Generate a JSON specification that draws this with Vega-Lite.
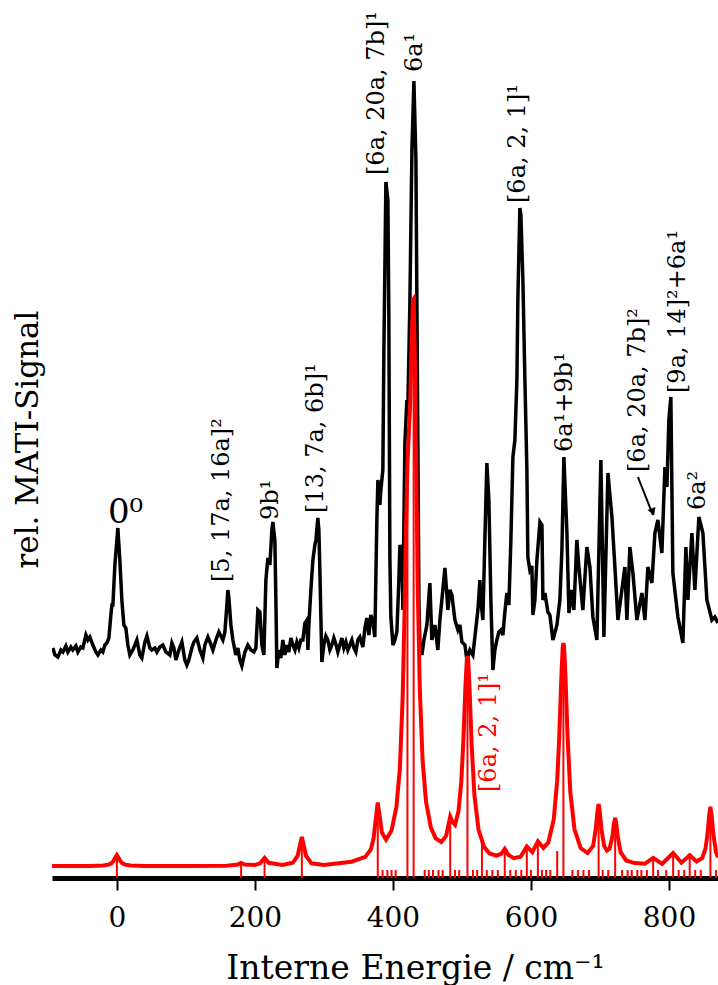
{
"$schema": "https://vega.github.io/schema/vega-lite/v6.json",
"width": 666, "height": 878,
"autosize": {"type": "none"},
"padding": {"left": 52, "top": 0, "right": 0, "bottom": 107},
"background": "white",
"config": {"view": {"stroke": null}, "font": "DejaVu Serif"},
"datasets": {
"black": [
{"x":-92.7,"y":23.0},{"x":-89.8,"y":22.3},{"x":-85.5,"y":22.1},{"x":-81.1,"y":22.8},{"x":-78.2,"y":22.6},{"x":-73.9,"y":23.2},{"x":-71.0,"y":22.6},{"x":-66.7,"y":23.1},{"x":-63.8,"y":22.8},{"x":-59.4,"y":23.2},{"x":-56.5,"y":22.6},{"x":-52.2,"y":23.1},{"x":-49.3,"y":23.0},{"x":-44.9,"y":24.3},{"x":-42.0,"y":23.8},{"x":-39.1,"y":24.1},{"x":-34.8,"y":23.3},{"x":-30.4,"y":22.6},{"x":-27.5,"y":22.3},{"x":-23.2,"y":22.8},{"x":-20.3,"y":22.6},{"x":-17.4,"y":23.3},{"x":-14.5,"y":23.5},{"x":-11.6,"y":24.0},{"x":-8.7,"y":26.3},{"x":-7.2,"y":27.3},{"x":-5.8,"y":27.3},{"x":-2.9,"y":31.3},{"x":1.4,"y":35.0},{"x":4.3,"y":31.8},{"x":7.2,"y":27.8},{"x":10.1,"y":25.3},{"x":13.0,"y":25.0},{"x":15.9,"y":23.3},{"x":18.8,"y":22.3},{"x":23.2,"y":22.8},{"x":29.0,"y":23.8},{"x":33.3,"y":22.3},{"x":36.2,"y":22.0},{"x":40.6,"y":23.6},{"x":43.5,"y":24.2},{"x":47.8,"y":23.0},{"x":50.7,"y":22.8},{"x":55.1,"y":23.0},{"x":58.0,"y":22.6},{"x":62.3,"y":23.1},{"x":66.7,"y":23.3},{"x":71.0,"y":22.6},{"x":76.8,"y":22.3},{"x":79.7,"y":23.5},{"x":82.6,"y":23.0},{"x":85.5,"y":21.8},{"x":89.8,"y":22.8},{"x":94.2,"y":23.6},{"x":98.5,"y":21.8},{"x":101.4,"y":21.3},{"x":104.3,"y":21.8},{"x":108.7,"y":23.0},{"x":111.6,"y":23.6},{"x":115.9,"y":24.0},{"x":120.3,"y":22.8},{"x":124.6,"y":22.0},{"x":127.5,"y":23.3},{"x":131.9,"y":24.1},{"x":134.8,"y":23.6},{"x":139.1,"y":22.8},{"x":143.5,"y":23.8},{"x":147.8,"y":24.6},{"x":150.7,"y":24.2},{"x":153.6,"y":23.8},{"x":156.5,"y":24.6},{"x":159.4,"y":27.3},{"x":160.8,"y":28.8},{"x":162.3,"y":28.0},{"x":165.2,"y":25.3},{"x":168.1,"y":23.8},{"x":172.4,"y":22.3},{"x":175.3,"y":23.0},{"x":178.2,"y":21.8},{"x":181.1,"y":21.2},{"x":185.5,"y":22.6},{"x":189.8,"y":23.3},{"x":194.2,"y":22.8},{"x":198.5,"y":22.6},{"x":201.4,"y":23.0},{"x":204.3,"y":26.8},{"x":207.2,"y":26.6},{"x":210.1,"y":23.3},{"x":213.0,"y":22.3},{"x":215.9,"y":29.8},{"x":218.8,"y":32.0},{"x":221.7,"y":31.3},{"x":224.6,"y":34.8},{"x":226.0,"y":35.6},{"x":228.9,"y":33.8},{"x":230.4,"y":27.8},{"x":231.8,"y":21.0},{"x":234.7,"y":22.8},{"x":237.6,"y":22.0},{"x":240.5,"y":23.8},{"x":243.4,"y":22.3},{"x":246.3,"y":23.3},{"x":249.2,"y":22.6},{"x":252.1,"y":24.0},{"x":255.0,"y":23.3},{"x":258.0,"y":22.8},{"x":260.8,"y":23.6},{"x":263.7,"y":23.0},{"x":266.6,"y":23.8},{"x":269.5,"y":23.8},{"x":272.4,"y":25.5},{"x":275.3,"y":25.8},{"x":276.8,"y":22.8},{"x":278.2,"y":25.3},{"x":281.1,"y":28.8},{"x":284.0,"y":31.8},{"x":286.9,"y":33.3},{"x":288.4,"y":33.8},{"x":291.2,"y":36.0},{"x":292.7,"y":34.8},{"x":294.1,"y":30.8},{"x":297.0,"y":21.6},{"x":299.9,"y":23.3},{"x":302.8,"y":24.2},{"x":305.7,"y":23.8},{"x":308.6,"y":22.8},{"x":311.5,"y":23.3},{"x":314.4,"y":24.0},{"x":317.3,"y":23.4},{"x":320.2,"y":22.6},{"x":323.1,"y":23.3},{"x":326.0,"y":24.0},{"x":328.9,"y":23.0},{"x":331.8,"y":23.6},{"x":334.7,"y":22.8},{"x":337.6,"y":23.3},{"x":340.5,"y":23.8},{"x":343.4,"y":23.0},{"x":346.3,"y":22.6},{"x":349.2,"y":23.8},{"x":352.1,"y":24.1},{"x":356.4,"y":23.1},{"x":359.4,"y":25.0},{"x":362.2,"y":26.0},{"x":365.1,"y":24.3},{"x":368.0,"y":26.3},{"x":371.0,"y":25.6},{"x":373.8,"y":24.1},{"x":376.7,"y":35.8},{"x":378.2,"y":39.8},{"x":381.1,"y":37.3},{"x":382.5,"y":38.8},{"x":385.4,"y":40.8},{"x":386.9,"y":52.8},{"x":389.8,"y":69.6},{"x":392.7,"y":67.8},{"x":394.1,"y":55.8},{"x":395.6,"y":31.8},{"x":397.0,"y":26.1},{"x":400.0,"y":23.3},{"x":402.8,"y":23.8},{"x":405.7,"y":24.6},{"x":408.6,"y":29.8},{"x":410.1,"y":33.3},{"x":413.0,"y":32.5},{"x":414.4,"y":26.8},{"x":417.3,"y":43.5},{"x":420.2,"y":47.8},{"x":421.7,"y":47.3},{"x":424.6,"y":57.8},{"x":427.5,"y":72.8},{"x":430.4,"y":79.7},{"x":433.3,"y":71.8},{"x":436.2,"y":42.8},{"x":437.6,"y":27.8},{"x":439.1,"y":23.3},{"x":442.0,"y":22.3},{"x":444.9,"y":23.8},{"x":449.2,"y":25.3},{"x":453.5,"y":29.5},{"x":456.4,"y":23.8},{"x":460.8,"y":25.3},{"x":465.1,"y":22.8},{"x":468.0,"y":25.8},{"x":470.9,"y":27.8},{"x":475.3,"y":31.0},{"x":478.2,"y":28.3},{"x":479.6,"y":26.8},{"x":482.5,"y":28.8},{"x":485.4,"y":28.3},{"x":489.8,"y":25.8},{"x":494.1,"y":24.8},{"x":497.0,"y":25.3},{"x":499.9,"y":23.6},{"x":504.3,"y":23.3},{"x":507.2,"y":21.8},{"x":511.5,"y":22.8},{"x":515.8,"y":22.3},{"x":520.2,"y":25.0},{"x":523.1,"y":26.8},{"x":526.0,"y":29.8},{"x":527.4,"y":27.8},{"x":530.3,"y":25.8},{"x":533.2,"y":33.8},{"x":536.1,"y":41.5},{"x":539.0,"y":37.8},{"x":541.9,"y":27.8},{"x":544.8,"y":20.8},{"x":547.7,"y":22.8},{"x":550.6,"y":23.8},{"x":553.5,"y":24.6},{"x":556.4,"y":24.8},{"x":559.3,"y":24.3},{"x":562.2,"y":26.6},{"x":565.1,"y":28.5},{"x":568.0,"y":27.3},{"x":570.9,"y":33.8},{"x":573.8,"y":42.1},{"x":576.7,"y":43.8},{"x":579.6,"y":49.8},{"x":581.0,"y":57.8},{"x":583.9,"y":67.0},{"x":585.4,"y":66.3},{"x":588.3,"y":59.8},{"x":591.2,"y":49.8},{"x":594.1,"y":40.8},{"x":595.5,"y":32.1},{"x":598.4,"y":30.8},{"x":601.3,"y":31.2},{"x":602.8,"y":26.3},{"x":605.7,"y":27.8},{"x":608.6,"y":31.8},{"x":613.0,"y":35.6},{"x":615.9,"y":35.3},{"x":617.3,"y":27.8},{"x":620.2,"y":28.5},{"x":624.5,"y":26.6},{"x":627.4,"y":26.3},{"x":631.8,"y":23.8},{"x":637.6,"y":25.3},{"x":641.9,"y":27.8},{"x":644.8,"y":32.8},{"x":647.7,"y":42.1},{"x":652.1,"y":34.5},{"x":655.0,"y":26.5},{"x":659.3,"y":28.8},{"x":662.2,"y":26.8},{"x":666.5,"y":33.8},{"x":669.4,"y":31.1},{"x":675.2,"y":26.8},{"x":681.0,"y":33.1},{"x":685.4,"y":31.1},{"x":689.7,"y":26.1},{"x":695.5,"y":23.8},{"x":701.3,"y":41.8},{"x":705.7,"y":24.1},{"x":711.5,"y":40.5},{"x":717.3,"y":36.1},{"x":721.6,"y":31.1},{"x":726.0,"y":25.8},{"x":731.7,"y":28.8},{"x":736.1,"y":31.1},{"x":739.0,"y":25.8},{"x":743.3,"y":33.1},{"x":747.7,"y":30.5},{"x":753.5,"y":25.8},{"x":760.7,"y":28.5},{"x":765.1,"y":25.8},{"x":769.4,"y":31.1},{"x":775.2,"y":29.5},{"x":779.6,"y":34.5},{"x":783.9,"y":35.8},{"x":789.7,"y":32.5},{"x":794.1,"y":41.1},{"x":797.0,"y":39.1},{"x":799.8,"y":45.8},{"x":802.7,"y":48.1},{"x":805.6,"y":30.5},{"x":812.9,"y":26.1},{"x":820.1,"y":23.5},{"x":824.5,"y":33.1},{"x":827.4,"y":27.8},{"x":833.2,"y":34.5},{"x":837.5,"y":28.8},{"x":843.3,"y":36.1},{"x":849.1,"y":34.5},{"x":854.9,"y":27.8},{"x":862.2,"y":25.8},{"x":866.5,"y":26.1},{"x":870.9,"y":25.5}
],
"red": [
{"x":-94,"y":1.2},{"x":-40,"y":1.21},{"x":-20,"y":1.25},{"x":-12,"y":1.34},{"x":-8,"y":1.46},{"x":-5,"y":1.69},{"x":-3,"y":1.96},{"x":0,"y":2.3},{"x":3,"y":1.96},{"x":5,"y":1.69},{"x":8,"y":1.46},{"x":12,"y":1.34},{"x":20,"y":1.25},{"x":40,"y":1.21},{"x":100,"y":1.2},{"x":160,"y":1.22},{"x":175,"y":1.34},{"x":180,"y":1.51},{"x":185,"y":1.35},{"x":200,"y":1.29},{"x":208,"y":1.5},{"x":214,"y":2.02},{"x":220,"y":1.52},{"x":240,"y":1.3},{"x":255,"y":1.52},{"x":262,"y":2.24},{"x":265,"y":3.21},{"x":268,"y":4.1},{"x":271,"y":3.21},{"x":274,"y":2.24},{"x":282,"y":1.47},{"x":300,"y":1.3},{"x":340,"y":1.63},{"x":360,"y":2.11},{"x":368,"y":2.86},{"x":372,"y":3.97},{"x":375,"y":5.81},{"x":378,"y":7.54},{"x":381,"y":6.08},{"x":384,"y":4.55},{"x":390,"y":3.84},{"x":398,"y":4.74},{"x":405,"y":7.1},{"x":410,"y":10.9},{"x":414,"y":17.9},{"x":417,"y":27.1},{"x":419,"y":35.0},{"x":421,"y":41.3},{"x":423,"y":44.5},{"x":425,"y":47.5},{"x":427,"y":52.9},{"x":429,"y":57.8},{"x":430,"y":57.9},{"x":432,"y":51.0},{"x":434,"y":39.5},{"x":436,"y":28.8},{"x":439,"y":18.8},{"x":443,"y":11.7},{"x":448,"y":7.6},{"x":455,"y":5.04},{"x":462,"y":3.96},{"x":470,"y":3.6},{"x":477,"y":4.21},{"x":480,"y":5.15},{"x":483,"y":6.13},{"x":486,"y":5.64},{"x":490,"y":5.32},{"x":495,"y":6.68},{"x":499,"y":9.6},{"x":502,"y":13.64},{"x":505,"y":19.04},{"x":507,"y":21.8},{"x":508,"y":22.2},{"x":509,"y":21.8},{"x":511,"y":19.0},{"x":514,"y":13.45},{"x":518,"y":8.32},{"x":524,"y":4.84},{"x":532,"y":3.11},{"x":540,"y":2.45},{"x":550,"y":2.23},{"x":557,"y":2.42},{"x":562,"y":2.91},{"x":567,"y":2.33},{"x":575,"y":1.99},{"x":585,"y":2.12},{"x":594,"y":3.15},{"x":602,"y":2.59},{"x":610,"y":3.67},{"x":618,"y":3.01},{"x":625,"y":3.53},{"x":633,"y":5.85},{"x":638,"y":9.73},{"x":641,"y":14.15},{"x":644,"y":20.1},{"x":646,"y":23.1},{"x":647,"y":23.5},{"x":648,"y":23.1},{"x":650,"y":20.15},{"x":653,"y":14.2},{"x":657,"y":8.6},{"x":663,"y":4.9},{"x":672,"y":3.0},{"x":682,"y":2.5},{"x":690,"y":3.2},{"x":694,"y":4.94},{"x":696,"y":6.47},{"x":698,"y":7.39},{"x":700,"y":6.45},{"x":702,"y":4.92},{"x":706,"y":3.21},{"x":710,"y":2.74},{"x":714,"y":2.95},{"x":718,"y":4.18},{"x":720,"y":5.34},{"x":722,"y":6.02},{"x":724,"y":5.25},{"x":726,"y":4.01},{"x":730,"y":2.56},{"x":738,"y":1.75},{"x":750,"y":1.49},{"x":765,"y":1.42},{"x":777,"y":2.01},{"x":790,"y":1.4},{"x":806,"y":2.5},{"x":818,"y":1.53},{"x":830,"y":2.27},{"x":840,"y":1.65},{"x":848,"y":1.99},{"x":853,"y":2.96},{"x":856,"y":4.52},{"x":858,"y":6.14},{"x":860,"y":7.12},{"x":862,"y":6.14},{"x":864,"y":4.52},{"x":868,"y":2.64},{"x":871,"y":2.07}
],
"sticks": [
{"x":0,"y":2.0},{"x":180,"y":1.3},{"x":214,"y":1.8},{"x":268,"y":3.8},{"x":378,"y":7.2},{"x":421,"y":40.0},{"x":430,"y":57.5},{"x":483,"y":5.8},{"x":508,"y":21.8},{"x":529,"y":3.5},{"x":562,"y":2.6},{"x":594,"y":2.9},{"x":610,"y":3.4},{"x":638,"y":2.7},{"x":647,"y":23.2},{"x":698,"y":7.0},{"x":722,"y":5.7},{"x":777,"y":1.8},{"x":806,"y":2.3},{"x":830,"y":2.1},{"x":860,"y":6.8},
{"x":385,"y":0.8},{"x":392,"y":0.8},{"x":398,"y":0.8},{"x":404,"y":0.8},{"x":446,"y":0.8},{"x":452,"y":0.8},{"x":458,"y":0.8},{"x":466,"y":0.8},{"x":472,"y":0.8},{"x":490,"y":0.8},{"x":496,"y":0.8},{"x":516,"y":0.8},{"x":522,"y":0.8},{"x":536,"y":0.8},{"x":544,"y":0.8},{"x":552,"y":0.8},{"x":570,"y":0.8},{"x":578,"y":0.8},{"x":586,"y":0.8},{"x":600,"y":0.8},{"x":616,"y":0.8},{"x":622,"y":0.8},{"x":628,"y":0.8},{"x":660,"y":0.8},{"x":668,"y":0.8},{"x":676,"y":0.8},{"x":684,"y":0.8},{"x":704,"y":0.8},{"x":712,"y":0.8},{"x":732,"y":0.8},{"x":740,"y":0.8},{"x":746,"y":0.8},{"x":754,"y":0.8},{"x":760,"y":0.8},{"x":768,"y":0.8},{"x":784,"y":0.8},{"x":796,"y":0.8},{"x":814,"y":0.8},{"x":822,"y":0.8},{"x":838,"y":0.8},{"x":846,"y":0.8},{"x":868,"y":0.8}
],
"labels": [
{"x":152.1,"y":29.6,"label":"[5, 17a, 16a]²"},
{"x":223.1,"y":35.8,"label":"9b¹"},
{"x":288.4,"y":36.5,"label":"[13, 7a, 6b]¹"},
{"x":376.7,"y":70.3,"label":"[6a, 20a, 7b]¹"},
{"x":431.8,"y":80.6,"label":"6a¹"},
{"x":581.0,"y":67.5,"label":"[6a, 2, 1]¹"},
{"x":649.2,"y":42.6,"label":"6a¹+9b¹"},
{"x":754.9,"y":40.6,"label":"[6a, 20a, 7b]²"},
{"x":812.9,"y":48.5,"label":"[9a, 14]²+6a¹"},
{"x":841.9,"y":36.8,"label":"6a²"}
],
"redlabels": [{"x":539.0,"y":8.6,"label":"[6a, 2, 1]¹"}],
"zerolabel": [{"x":-13.0,"y":35.5,"label":"0⁰"}],
"arrow": [{"x":755.0,"y":40.1,"x2":776.7,"y2":36.3}],
"arrowhead": [{"x":776.5,"y":36.6}]
},
"layer": [
{"data": {"name": "black"},
 "mark": {"type": "line", "color": "black", "strokeWidth": 3.5, "clip": true},
 "encoding": {
  "x": {"field": "x", "type": "quantitative",
        "scale": {"domain": [-94, 871], "nice": false, "zero": false},
        "axis": {"values": [0, 200, 400, 600, 800], "format": "d", "title": "Interne Energie / cm⁻¹",
                 "titleFont": "DejaVu Serif", "titleFontSize": 33, "titleFontWeight": "normal", "titleColor": "black",
                 "titleX": 363, "titleY": 100, "titleBaseline": "alphabetic", "titleAlign": "center",
                 "labelFont": "DejaVu Serif", "labelFontSize": 28, "labelColor": "black", "labelPadding": 14, "labelFlush": false,
                 "tickSize": 12, "tickWidth": 2, "tickColor": "black",
                 "domainWidth": 5, "domainColor": "black", "grid": false}},
  "y": {"field": "y", "type": "quantitative",
        "scale": {"domain": [0, 87.8], "nice": false, "zero": true},
        "axis": {"title": "rel. MATI-Signal", "titleFont": "DejaVu Serif", "titleFontSize": 31, "titleFontWeight": "normal", "titleColor": "black",
                 "titlePadding": 8, "domain": false, "ticks": false, "labels": false, "grid": false}}
 }},
{"data": {"name": "sticks"},
 "mark": {"type": "rule", "color": "#ff0000", "strokeWidth": 2, "clip": true},
 "encoding": {"x": {"field": "x", "type": "quantitative"}, "y": {"field": "y", "type": "quantitative"}, "y2": {"datum": 0}}},
{"data": {"name": "red"},
 "mark": {"type": "line", "color": "#ff0000", "strokeWidth": 4, "clip": true},
 "encoding": {"x": {"field": "x", "type": "quantitative"}, "y": {"field": "y", "type": "quantitative"}}},
{"data": {"name": "labels"},
 "mark": {"type": "text", "angle": 270, "align": "left", "baseline": "middle", "font": "DejaVu Serif", "fontSize": 24, "color": "black"},
 "encoding": {"x": {"field": "x", "type": "quantitative"}, "y": {"field": "y", "type": "quantitative"}, "text": {"field": "label"}}},
{"data": {"name": "redlabels"},
 "mark": {"type": "text", "angle": 270, "align": "left", "baseline": "middle", "font": "DejaVu Serif", "fontSize": 24, "color": "#ff0000"},
 "encoding": {"x": {"field": "x", "type": "quantitative"}, "y": {"field": "y", "type": "quantitative"}, "text": {"field": "label"}}},
{"data": {"name": "zerolabel"},
 "mark": {"type": "text", "align": "left", "baseline": "alphabetic", "font": "DejaVu Serif", "fontSize": 34, "color": "black"},
 "encoding": {"x": {"field": "x", "type": "quantitative"}, "y": {"field": "y", "type": "quantitative"}, "text": {"field": "label"}}},
{"data": {"name": "arrow"},
 "mark": {"type": "rule", "color": "black", "strokeWidth": 2},
 "encoding": {"x": {"field": "x", "type": "quantitative"}, "y": {"field": "y", "type": "quantitative"}, "x2": {"field": "x2"}, "y2": {"field": "y2"}}},
{"data": {"name": "arrowhead"},
 "mark": {"type": "point", "shape": "triangle-down", "filled": true, "color": "black", "size": 70, "angle": -21, "opacity": 1},
 "encoding": {"x": {"field": "x", "type": "quantitative"}, "y": {"field": "y", "type": "quantitative"}}}
]
}
